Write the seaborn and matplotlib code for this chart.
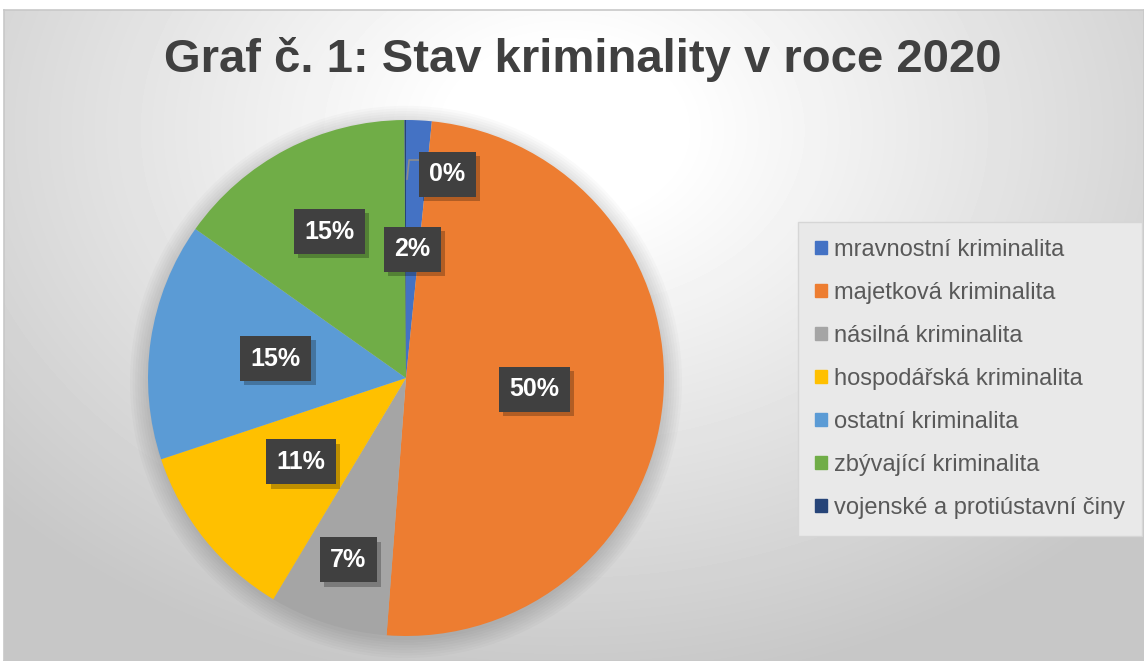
import numpy as np
import matplotlib
matplotlib.use("Agg")
import matplotlib.pyplot as plt
import matplotlib.patches as mpatches
import matplotlib.patheffects as pe
import seaborn as sns

# Data (percent shares, 2020)
categories = [
    "mravnostní kriminalita",
    "majetková kriminalita",
    "násilná kriminalita",
    "hospodářská kriminalita",
    "ostatní kriminalita",
    "zbývající kriminalita",
    "vojenské a protiústavní činy",
]
shares = [1.6, 49.6, 7.4, 11.3, 14.9, 15.1, 0.1]
colors = ["#4472C4", "#ED7D31", "#A5A5A5", "#FFC000", "#5B9BD5", "#70AD47", "#264478"]

# label placement (fraction of radius) for each slice, Excel "best fit" look
label_r = [0.50, 0.50, 0.74, 0.52, 0.51, 0.64, None]

sns.set_style("white")
plt.rcParams["font.family"] = ["Liberation Sans", "DejaVu Sans"]

W, H = 1144, 661
fig = plt.figure(figsize=(W / 100, H / 100), dpi=100, facecolor="white")

# background: radial gradient like the Excel chart area
bg = fig.add_axes([4 / W, 0, (W - 4) / W, (H - 10) / H])
yy, xx = np.mgrid[0:651, 0:1140]
d = np.sqrt(((xx - 560) / 760) ** 2 + ((yy - 120) / 560) ** 2)
shade = np.clip(1.0 - 0.22 * np.clip(d - 0.15, 0, None) / 0.85, 0.78, 1.0)
bg.imshow(shade, cmap="gray", vmin=0, vmax=1, aspect="auto", interpolation="bilinear")
bg.set_xticks([])
bg.set_yticks([])
for s in bg.spines.values():
    s.set_color("#c8c8c8")
    s.set_linewidth(1.2)

fig.text(583 / W, 1 - 60 / H, "Graf č. 1: Stav kriminality v roce 2020",
         ha="center", va="center", fontsize=34, fontweight="bold", color="#404040")

# pie axes: centre (406, 378), radius 258 px
cx, cy, r = 406, 378, 258
ax = fig.add_axes([(cx - r) / W, (H - cy - r) / H, 2 * r / W, 2 * r / H])

wedges, _ = ax.pie(shares, colors=colors, startangle=90, counterclock=False,
                   radius=1.0, wedgeprops=dict(linewidth=0))
for w in wedges:
    w.set_zorder(2)
ax.set_xlim(-1, 1)
ax.set_ylim(-1, 1)
ax.axis("off")

# soft shadow under the pie
for k in range(8):
    ax.add_patch(mpatches.Circle((0.0, -0.015), 1.0 + 0.01 * k, color="black",
                                 alpha=0.02, lw=0, zorder=0, clip_on=False))

total = sum(shares)
start = 90.0
for i, val in enumerate(shares):
    span = 360.0 * val / total
    mid = np.deg2rad(start - span / 2)
    start -= span
    txt = f"{val / total * 100:.0f}%"
    if label_r[i] is None:
        # tiny slice: label outside with a leader line
        lx, ly = 0.16, 0.79
        ax.plot([0.004, 0.012, 0.06], [0.77, 0.845, 0.845], color="#8c8c8c", lw=1.2, zorder=3)
    else:
        lx, ly = label_r[i] * np.cos(mid), label_r[i] * np.sin(mid)
    t = ax.text(lx, ly, txt, ha="center", va="center", fontsize=18, fontweight="bold",
                color="white", zorder=5,
                bbox=dict(boxstyle="square,pad=0.42", fc="#404040", ec="none"))
    t.get_bbox_patch().set_path_effects(
        [pe.SimplePatchShadow(offset=(3, -3), shadow_rgbFace="black", alpha=0.25), pe.Normal()])

handles = [mpatches.Patch(color=c) for c in colors]
leg = fig.legend(handles, categories, loc="upper left",
                 bbox_to_anchor=(805 / W, 1 - 229 / H), frameon=True,
                 fontsize=17, labelspacing=0.89, handlelength=0.5, handleheight=0.5,
                 handletextpad=0.3, borderpad=0.42, borderaxespad=0)
frame = leg.get_frame()
frame.set_facecolor("#e9e9e9")
frame.set_edgecolor("#d6d6d6")
frame.set_boxstyle("square")
frame.set_alpha(1)
for t in leg.get_texts():
    t.set_color("#595959")

fig.savefig("out.png", dpi=100, facecolor="white")
